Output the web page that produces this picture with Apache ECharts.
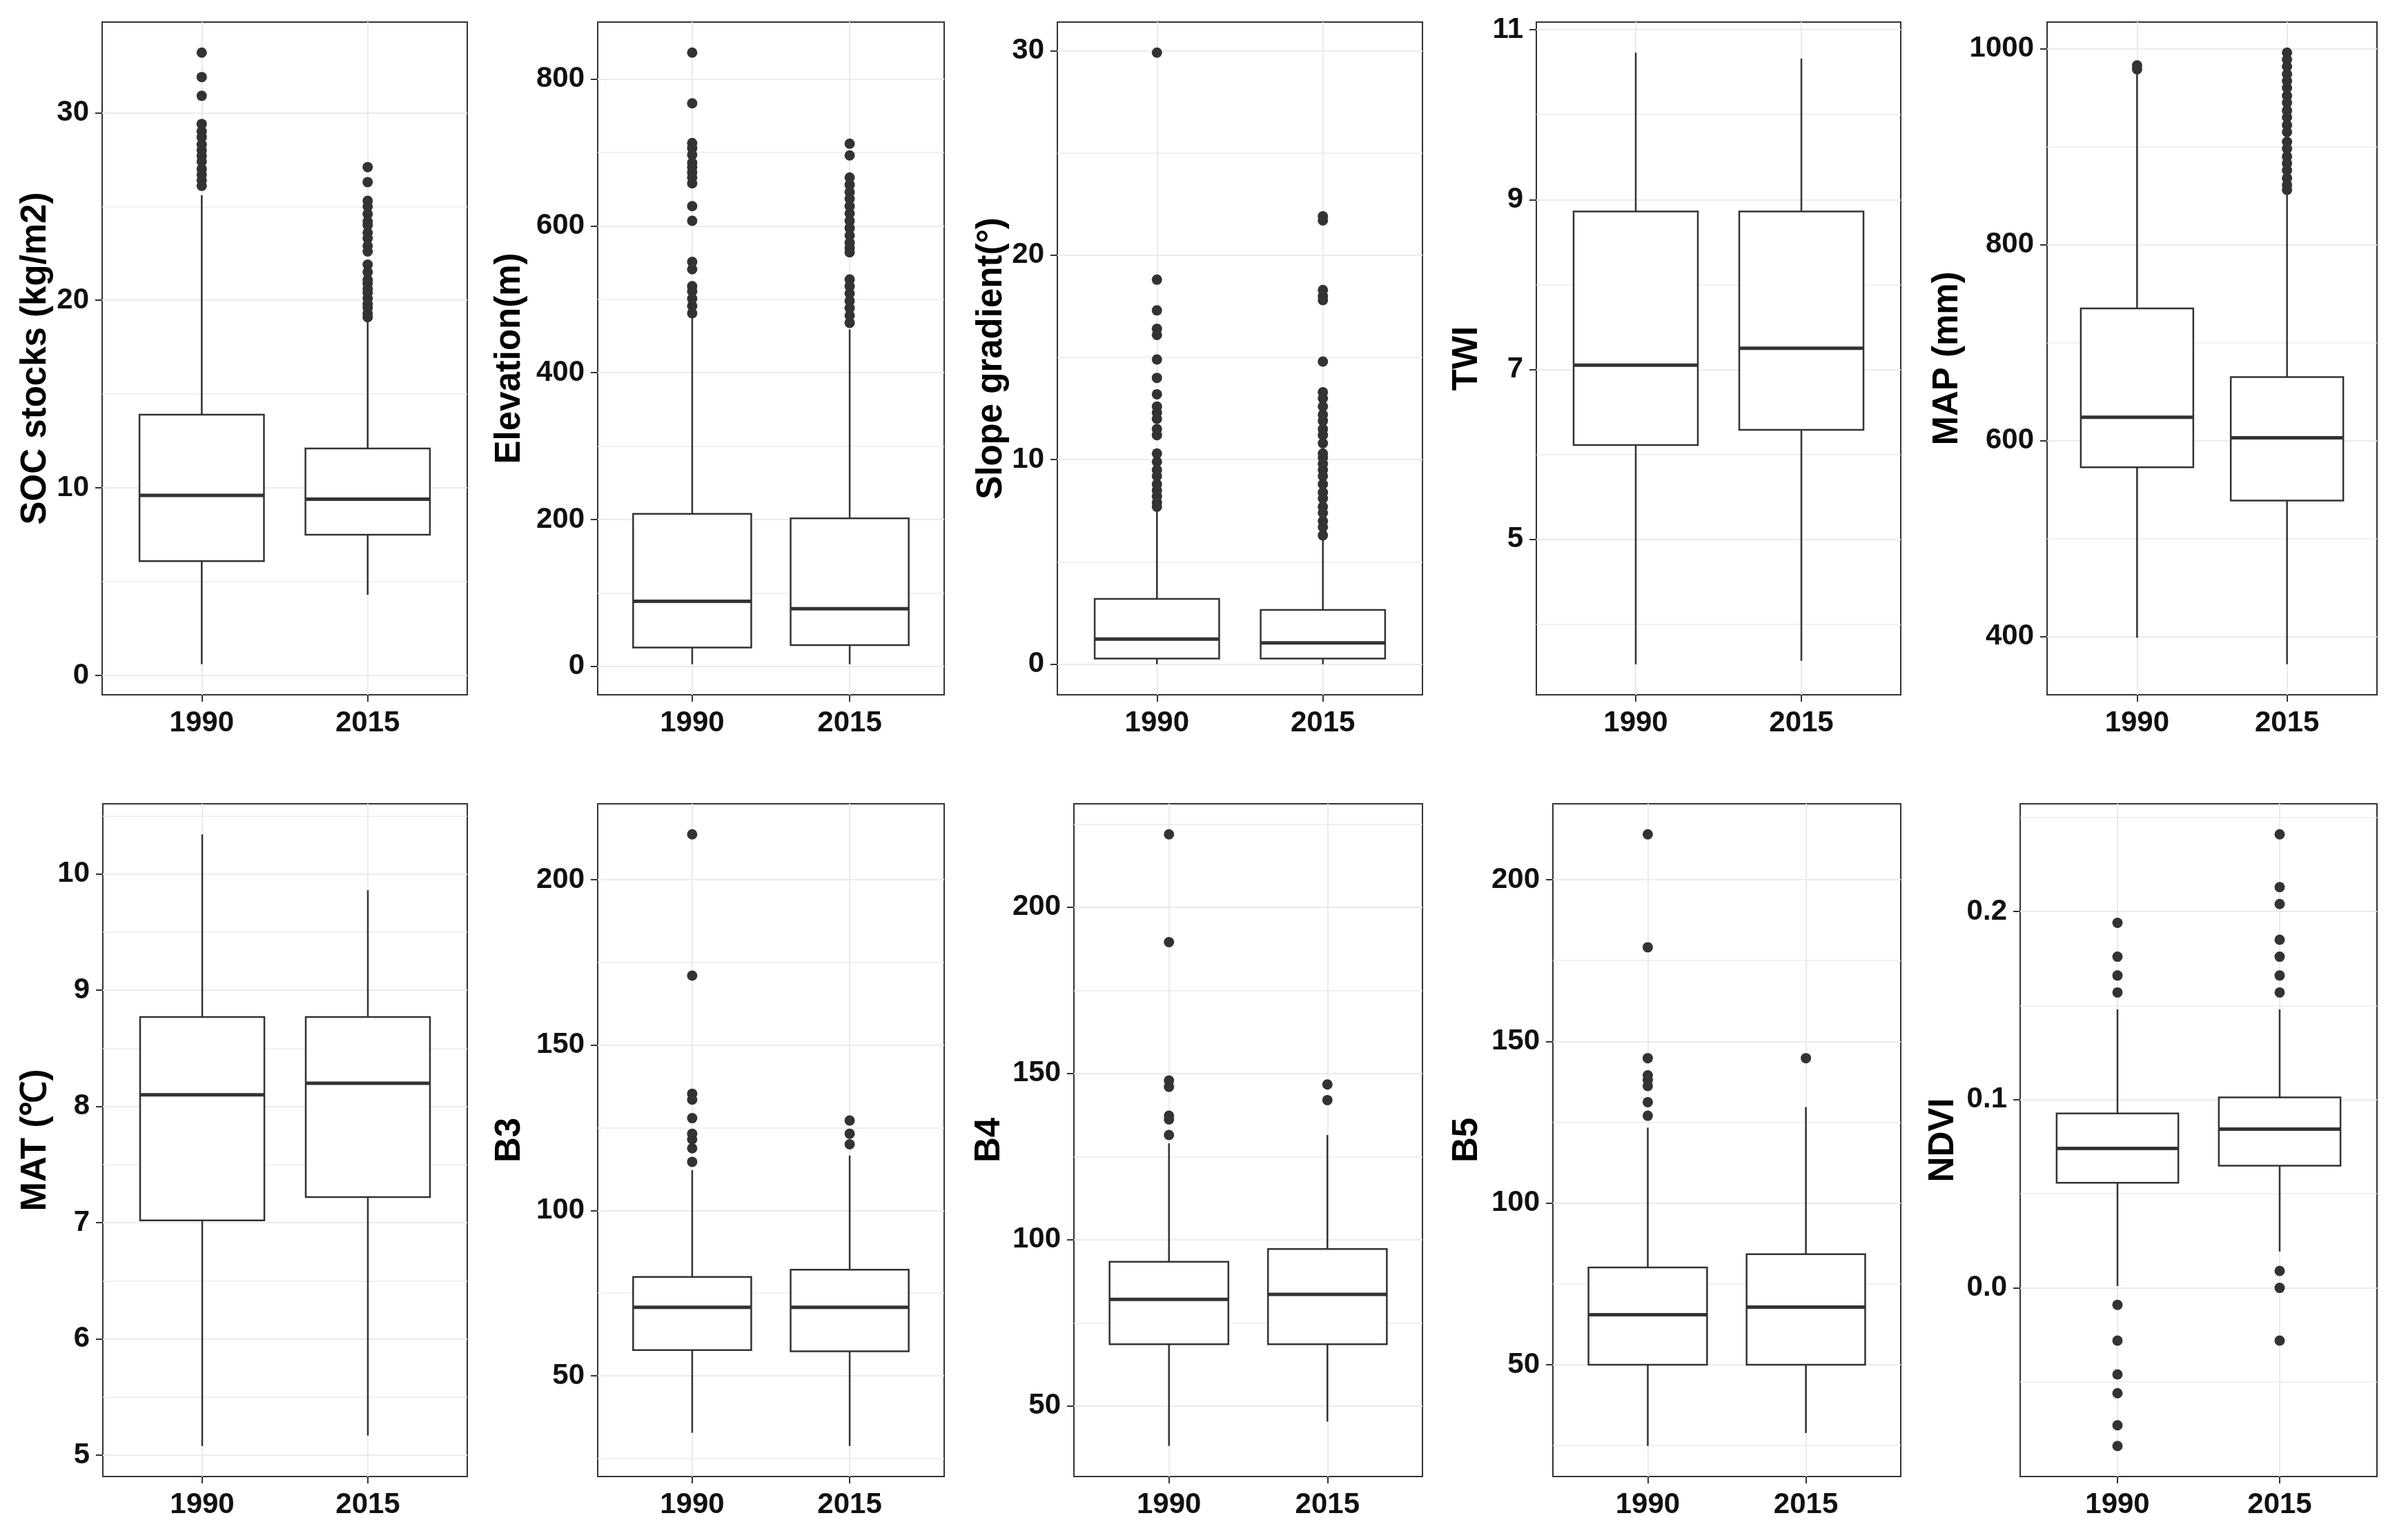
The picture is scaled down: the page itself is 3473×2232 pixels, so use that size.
<!DOCTYPE html>
<html>
<head>
<meta charset="utf-8">
<script src="https://cdn.jsdelivr.net/npm/echarts@6/dist/echarts.min.js"></script>
<style>
  html, body { margin: 0; padding: 0; background: #fff; }
  #main { width: 3473px; height: 2232px; }
</style>
</head>
<body>
<div id="main"></div>
<script>
// categories
const years = ['1990', '2015'];

// box stats per year: [lower whisker, Q1, median, Q3, upper whisker]
const socBox = [[0.6, 6.1, 9.6, 13.9, 25.6], [4.3, 7.5, 9.4, 12.1, 18.9]];
const socOut1990 = [33.2, 31.9, 30.9, 29.4, 29.0, 28.7, 28.3, 28.0, 27.7, 27.4, 27.0, 26.7, 26.4, 26.1];
const socOut2015 = [27.1, 26.3, 25.3, 25.0, 24.6, 24.2, 24.0, 23.6, 23.3, 22.9, 22.6, 21.9, 21.5, 21.1, 20.9, 20.6, 20.4, 20.1, 19.8, 19.6, 19.3, 19.1];
const socTicks = [0, 10, 20, 30];

const elevBox = [[3, 25.8, 88.7, 207.8, 477], [3, 29.1, 78.7, 201.8, 459]];
const elevOut1990 = [836, 767, 713, 706, 697, 686, 680, 673, 666, 658, 627, 607, 551, 541, 518, 511, 501, 491, 481];
const elevOut2015 = [712, 696, 666, 656, 646, 637, 627, 617, 607, 597, 587, 577, 570, 564, 527, 518, 508, 498, 488, 478, 468];
const elevTicks = [0, 200, 400, 600, 800];

const slopeBox = [[0.0, 0.28, 1.23, 3.19, 7.5], [0.0, 0.28, 1.04, 2.65, 6.2]];
const slopeOut1990 = [29.9, 18.8, 17.3, 16.4, 16.1, 14.9, 14.0, 13.2, 12.6, 12.3, 12.0, 11.5, 11.2, 10.3, 9.9, 9.5, 9.2, 8.8, 8.5, 8.2, 7.9, 7.7];
const slopeOut2015 = [21.9, 21.7, 18.3, 18.0, 17.8, 14.8, 13.3, 13.0, 12.6, 12.2, 11.9, 11.5, 11.2, 10.8, 10.3, 10.1, 9.8, 9.5, 9.2, 8.8, 8.4, 8.1, 7.7, 7.4, 7.0, 6.7, 6.3];
const slopeTicks = [0, 10, 20, 30];

const twiBox = [[3.53, 6.11, 7.05, 8.86, 10.73], [3.57, 6.29, 7.25, 8.86, 10.66]];
const twiOut1990 = [];
const twiOut2015 = [];
const twiTicks = [5, 7, 9, 11];

const mapBox = [[399, 573, 624, 735, 975], [372, 539, 603, 665, 853]];
const mapOut1990 = [979, 983];
const mapOut2015 = [996, 989, 982, 974, 967, 960, 952, 945, 937, 930, 922, 915, 905, 898, 890, 883, 876, 868, 861, 856];
const mapTicks = [400, 600, 800, 1000];

const matBox = [[5.08, 7.02, 8.10, 8.77, 10.34], [5.17, 7.22, 8.20, 8.77, 9.86]];
const matOut1990 = [];
const matOut2015 = [];
const matTicks = [5, 6, 7, 8, 9, 10];

const b3Box = [[32.8, 57.8, 70.7, 79.9, 112.2], [28.8, 57.4, 70.7, 82.1, 116.6]];
const b3Out1990 = [213.7, 171, 135.3, 133.5, 127.9, 123.2, 121.5, 118.8, 114.7];
const b3Out2015 = [127.2, 123.2, 120];
const b3Ticks = [50, 100, 150, 200];

const b4Box = [[38, 68.6, 82.1, 93.4, 129], [45.3, 68.6, 83.6, 97.2, 131.5]];
const b4Out1990 = [221.9, 189.5, 147.9, 146, 137.3, 136.2, 131.5];
const b4Out2015 = [146.7, 142];
const b4Ticks = [50, 100, 150, 200];

const b5Box = [[24.9, 50, 65.5, 80.1, 123.3], [28.9, 50, 67.8, 84.2, 129.7]];
const b5Out1990 = [214, 179.1, 144.8, 139.5, 138, 136.2, 131.2, 127];
const b5Out2015 = [144.8];
const b5Ticks = [50, 100, 150, 200];

const ndviBox = [[0.001, 0.0559, 0.0741, 0.0927, 0.148], [0.0193, 0.0649, 0.0844, 0.1012, 0.148]];
const ndviOut1990 = [0.194, 0.176, 0.166, 0.157, -0.009, -0.028, -0.046, -0.056, -0.073, -0.084];
const ndviOut2015 = [0.241, 0.213, 0.204, 0.185, 0.176, 0.166, 0.157, 0.009, 0.0, -0.028];
const ndviTicks = [0.0, 0.1, 0.2];

// panel layout: [left, top, width, height] in px, plus title gap
const panels = [
  { title: 'SOC stocks (kg/m2)', box: socBox, out: [socOut1990, socOut2015], ticks: socTicks, dec: 0, rect: [148, 32, 529, 975], gap: 71 },
  { title: 'Elevation(m)', box: elevBox, out: [elevOut1990, elevOut2015], ticks: elevTicks, dec: 0, rect: [866, 32, 502, 975], gap: 102 },
  { title: 'Slope gradient(°)', box: slopeBox, out: [slopeOut1990, slopeOut2015], ticks: slopeTicks, dec: 0, rect: [1532, 32, 529, 975], gap: 69 },
  { title: 'TWI', box: twiBox, out: [twiOut1990, twiOut2015], ticks: twiTicks, dec: 0, rect: [2226, 32, 528, 975], gap: 75 },
  { title: 'MAP (mm)', box: mapBox, out: [mapOut1990, mapOut2015], ticks: mapTicks, dec: 0, rect: [2966, 32, 478, 975], gap: 119 },
  { title: 'MAT (℃)', box: matBox, out: [matOut1990, matOut2015], ticks: matTicks, dec: 0, rect: [149, 1165, 528, 975], gap: 72 },
  { title: 'B3', box: b3Box, out: [b3Out1990, b3Out2015], ticks: b3Ticks, dec: 0, rect: [866, 1165, 502, 975], gap: 102 },
  { title: 'B4', box: b4Box, out: [b4Out1990, b4Out2015], ticks: b4Ticks, dec: 0, rect: [1556, 1165, 505, 975], gap: 97 },
  { title: 'B5', box: b5Box, out: [b5Out1990, b5Out2015], ticks: b5Ticks, dec: 0, rect: [2250, 1165, 504, 975], gap: 99 },
  { title: 'NDVI', box: ndviBox, out: [ndviOut1990, ndviOut2015], ticks: ndviTicks, dec: 1, rect: [2927, 1165, 517, 975], gap: 86 }
];

const FONT = '"Liberation Sans", Arial, sans-serif';
const INK = '#333333';
const GRIDC = '#EBEBEB';

// ggplot style range: data range expanded by 5%
function yRange(p) {
  let vals = [];
  p.box.forEach(b => { vals = vals.concat(b); });
  p.out.forEach(o => { vals = vals.concat(o); });
  const lo = Math.min(...vals), hi = Math.max(...vals);
  const pad = (hi - lo) * 0.05;
  return [lo - pad, hi + pad];
}

// minor grid lines halfway between major ticks
function minorLines(ticks, range) {
  const step = ticks[1] - ticks[0];
  const res = [];
  for (let k = -3; k < ticks.length + 3; k++) {
    const v = ticks[0] + (k + 0.5) * step;
    if (v > range[0] && v < range[1]) res.push(v);
  }
  return res;
}

function renderBox(params, api) {
  const x = api.value(0);
  const cx = api.coord([x, 0])[0];
  const left = api.coord([x - 0.375, 0])[0];
  const right = api.coord([x + 0.375, 0])[0];
  const yLow = api.coord([x, api.value(1)])[1];
  const yQ1 = api.coord([x, api.value(2)])[1];
  const yMed = api.coord([x, api.value(3)])[1];
  const yQ3 = api.coord([x, api.value(4)])[1];
  const yHigh = api.coord([x, api.value(5)])[1];
  const ls = { stroke: INK, lineWidth: 2.5 };
  return {
    type: 'group',
    children: [
      { type: 'line', shape: { x1: cx, y1: yQ3, x2: cx, y2: yHigh }, style: ls },
      { type: 'line', shape: { x1: cx, y1: yQ1, x2: cx, y2: yLow }, style: ls },
      { type: 'rect', shape: { x: left, y: yQ3, width: right - left, height: yQ1 - yQ3 }, style: { fill: '#fff', stroke: INK, lineWidth: 2.5 } },
      { type: 'line', shape: { x1: left, y1: yMed, x2: right, y2: yMed }, style: { stroke: INK, lineWidth: 5 } }
    ]
  };
}

const grids = [], xAxes = [], yAxes = [], series = [];

panels.forEach((p, i) => {
  const range = yRange(p);
  grids.push({
    left: p.rect[0], top: p.rect[1], width: p.rect[2], height: p.rect[3],
    show: true, borderColor: INK, borderWidth: 2, backgroundColor: '#fff',
    containLabel: false, outerBoundsMode: 'none'
  });
  xAxes.push({
    type: 'value', gridIndex: i, min: 0.4, max: 2.6, position: 'bottom',
    axisLine: { show: false, onZero: false },
    axisTick: { show: true, customValues: [1, 2], length: 10, lineStyle: { color: INK, width: 2 } },
    axisLabel: {
      customValues: [1, 2], margin: 20,
      formatter: v => years[Math.round(v) - 1],
      color: '#111', fontSize: 42, fontWeight: 'bold', fontFamily: FONT
    },
    splitLine: { show: true, lineStyle: { color: GRIDC, width: 2 } }
  });
  yAxes.push({
    type: 'value', gridIndex: i, min: range[0], max: range[1], position: 'left',
    name: p.title, nameLocation: 'middle', nameRotate: 90, nameGap: p.gap,
    nameTextStyle: { color: '#000', fontSize: 51, fontWeight: 'bold', fontFamily: FONT },
    axisLine: { show: false, onZero: false },
    axisTick: { show: true, customValues: p.ticks, length: 10, lineStyle: { color: INK, width: 2 } },
    axisLabel: {
      customValues: p.ticks, margin: 19,
      formatter: v => v.toFixed(p.dec),
      color: '#111', fontSize: 42, fontWeight: 'bold', fontFamily: FONT
    },
    splitLine: { show: true, lineStyle: { color: GRIDC, width: 2 } }
  });
  series.push({
    type: 'custom', xAxisIndex: i, yAxisIndex: i, z: 3,
    renderItem: renderBox,
    encode: { x: 0, y: [1, 2, 3, 4, 5] },
    data: p.box.map((b, k) => [k + 1].concat(b)),
    silent: true, animation: false
  });
  const pts = [];
  p.out.forEach((o, k) => o.forEach(v => pts.push([k + 1, v])));
  series.push({
    type: 'scatter', xAxisIndex: i, yAxisIndex: i, z: 4,
    symbol: 'circle', symbolSize: 15,
    itemStyle: { color: INK, opacity: 1 },
    data: pts, silent: true, animation: false,
    markLine: {
      silent: true, symbol: 'none', z: 1, animation: false,
      label: { show: false },
      lineStyle: { color: GRIDC, width: 1.5, type: 'solid' },
      emphasis: { disabled: true },
      data: minorLines(p.ticks, range).map(v => ({ yAxis: v }))
    }
  });
});

var myChart = echarts.init(document.getElementById('main'));
myChart.setOption({
  backgroundColor: '#fff',
  animation: false,
  grid: grids,
  xAxis: xAxes,
  yAxis: yAxes,
  series: series
});
</script>
</body>
</html>
